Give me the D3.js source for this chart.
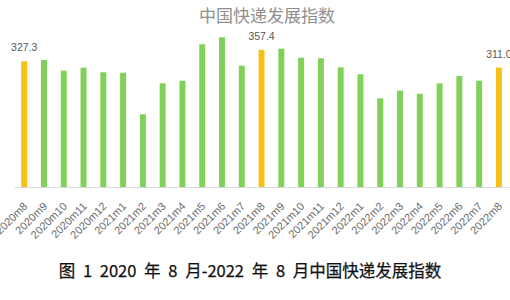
<!DOCTYPE html>
<html>
<head>
<meta charset="utf-8">
<script src="https://cdn.jsdelivr.net/npm/d3@7"></script>
<style>
  body { margin: 0; background: #fff; }
  svg { display: block; }
</style>
</head>
<body>
<script>
// mois (axe x)
const months = ["2020m8", "2020m9", "2020m10", "2020m11", "2020m12", "2021m1", "2021m2", "2021m3",
  "2021m4", "2021m5", "2021m6", "2021m7", "2021m8", "2021m9", "2021m10", "2021m11", "2021m12",
  "2022m1", "2022m2", "2022m3", "2022m4", "2022m5", "2022m6", "2022m7", "2022m8"]
// indice de développement de la livraison express
const values = [327.3, 330.8, 303.0, 311.0, 298.8, 297.7, 189.4, 270.1,
  276.9, 371.7, 390.0, 316.0, 357.4, 360.3, 336.8, 335.3, 311.8,
  293.6, 231.0, 250.9, 243.0, 270.1, 289.2, 276.9, 311.0]
// mois mis en avant (barres jaunes + étiquette)
const highlighted = ["2020m8", "2021m8", "2022m8"]

const title = "中国快递发展指数"
const caption = "图 1 2020 年 8 月-2022 年 8 月中国快递发展指数"

const data = months.map((m, i) => ({ month: m, value: values[i] }))

const W = 510, H = 300
const svg = d3.select("body").append("svg")
  .attr("width", W)
  .attr("height", H)

//------------------------------------------------------------------------------

const x = d3.scaleBand()
  .domain(months)
  .range([14.3, 508.8])
  .paddingInner(0.7)
  .paddingOuter(0.35)

const y = d3.scaleLinear()
  .domain([0, 400])
  .range([187, 187 - 400 / 2.605])

//------------------------------------------------------------------------------

// titre
svg.append("text")
  .attr("x", 267)
  .attr("y", 14)
  .attr("text-anchor", "middle")
  .attr("dominant-baseline", "central")
  .style("font-family", "'Noto Sans CJK SC', sans-serif")
  .style("font-size", "17px")
  .style("fill", "#8f8f8f")
  .text(title)

// barres
svg.append("g")
  .selectAll("rect")
  .data(data)
  .join("rect")
  .attr("x", d => x(d.month))
  .attr("y", d => y(d.value))
  .attr("width", x.bandwidth())
  .attr("height", d => y(0) - y(d.value))
  .style("fill", d => highlighted.includes(d.month) ? "#f5c119" : "#7fd157")

// étiquettes de valeur
svg.append("g")
  .selectAll("text")
  .data(data.filter(d => highlighted.includes(d.month)))
  .join("text")
  .attr("x", d => x(d.month) + x.bandwidth() / 2)
  .attr("y", d => y(d.value) - 10)
  .attr("text-anchor", "middle")
  .style("font-family", "'Liberation Sans', Arial, sans-serif")
  .style("font-size", "10.5px")
  .style("fill", "#595959")
  .text(d => d.value.toFixed(1))

// axe x
const xAxis = svg.append("g")
  .attr("transform", "translate(0," + y(0) + ")")
  .call(d3.axisBottom(x).tickSize(0).tickSizeOuter(0))

xAxis.select(".domain").attr("stroke", "#d9d9d9")

xAxis.selectAll(".tick text")
  .attr("text-anchor", "end")
  .attr("dy", null)
  .attr("y", null)
  .attr("transform", "translate(4,20) rotate(-45)")
  .style("font-family", "'Liberation Sans', Arial, sans-serif")
  .style("font-size", "11px")
  .style("fill", "#6b6b6b")

// légende sous le graphique
svg.append("text")
  .attr("x", 250)
  .attr("y", 270)
  .attr("text-anchor", "middle")
  .attr("dominant-baseline", "central")
  .style("font-family", "'Noto Sans CJK SC', sans-serif")
  .style("font-size", "16.5px")
  .style("word-spacing", "4px")
  .style("stroke", "#111")
  .style("stroke-width", "0.25px")
  .style("fill", "#111")
  .text(caption)
</script>
</body>
</html>
